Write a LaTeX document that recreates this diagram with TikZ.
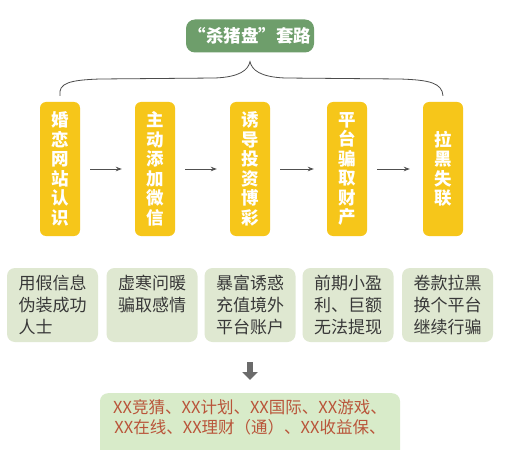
\documentclass[tikz,border=0pt]{standalone}
\usepackage{fontspec}
\usepackage{tikz}
\usetikzlibrary{arrows.meta}
\newfontfamily\cjk{Noto Sans CJK SC}
\definecolor{pillgreen}{HTML}{6E9E6B}
\definecolor{stageyellow}{HTML}{F6C61A}
\definecolor{notegreen}{HTML}{DFE8D1}
\definecolor{resultgreen}{HTML}{D8EBC9}
\definecolor{resultred}{HTML}{B9553A}
\definecolor{linkgray}{HTML}{505050}

\begin{document}
\begin{tikzpicture}[x=1pt,y=-1pt,
            title/.style={rounded corners=9pt,fill=pillgreen,text=white,
                minimum width=128pt,minimum height=33pt,inner sep=0pt,
                font=\cjk\bfseries\fontsize{17.5}{20}\selectfont},
            stage/.style={rounded corners=6pt,fill=stageyellow,text=white,
                minimum width=40pt,minimum height=134pt,inner sep=0pt,
                align=center,font=\cjk\bfseries\fontsize{17.5}{19.5}\selectfont},
            note/.style={rounded corners=8pt,fill=notegreen,text=black!78,
                text width=68pt,minimum height=74pt,inner xsep=11.5pt,
                inner ysep=0pt,align=left,font=\cjk\fontsize{17}{22}\selectfont},
            result/.style={rounded corners=8pt,fill=resultgreen,text=resultred,
                text width=290pt,inner xsep=5pt,inner ysep=6pt,align=center,
                font=\cjk\fontsize{16.5}{20}\selectfont},
            link/.style={draw=linkgray,line width=0.8pt,
                -{Stealth[length=6pt,width=4.5pt]},
                shorten <=10pt,shorten >=13pt},
            bigarrow/.style={draw=black!58,line width=5.5pt,
                -{Triangle[length=8pt,width=15pt]},
                shorten <=20pt,shorten >=13pt},
            brace/.style={draw=black!70,line width=0.8pt}
        ]
        \clip (0,0) rectangle (529,449);
        \fill[white] (0,0) rectangle (529,449);
        \node[title] (title) at (250,36) {“杀猪盘”套路};
        \coordinate (peak) at ([yshift=-9pt]title.south);
        \node[stage] (b1) at (60,169)  {婚\\恋\\网\\站\\认\\识};
        \node[stage] (b2) at (155,169) {主\\动\\添\\加\\微\\信};
        \node[stage] (b3) at (250,169) {诱\\导\\投\\资\\博\\彩};
        \node[stage] (b4) at (347,169) {平\\台\\骗\\取\\财\\产};
        \node[stage] (b5) at (443,169) {拉\\黑\\失\\联};
        \draw[link] (b1) -- (b2);
        \draw[link] (b2) -- (b3);
        \draw[link] (b3) -- (b4);
        \draw[link] (b4) -- (b5);
        % brace from the title down to the first and last step
        \draw[brace] ([yshift=6pt]b1.north) .. controls (58,83) and (70,80) .. (100,79)
            -- (215,78) .. controls (240,77) and (248,70) .. (peak)
            .. controls (252,70) and (260,77) .. (285,78)
            -- (400,79) .. controls (430,80) and (442,83) .. ([yshift=6pt]b5.north);
        \node[note] (n1) at (52.5,305) {用假信息\\伪装成功\\人士};
        \node[note] (n2) at (152,305)  {虚寒问暖\\骗取感情\\\phantom{人}};
        \node[note] (n3) at (250,305)  {暴富诱惑\\充值境外\\平台账户};
        \node[note] (n4) at (348,305)  {前期小盈\\利、巨额\\无法提现};
        \node[note] (n5) at (447.5,305) {卷款拉黑\\换个平台\\继续行骗};
        \node[result,anchor=north] (out) at (250,393)
            {XX竞猜、XX计划、XX国际、XX游戏、\\XX在线、XX理财（通）、XX收益保、\\\phantom{X}};
        \draw[bigarrow] (n3.south) -- (out.north);
    \end{tikzpicture}
\end{document}
